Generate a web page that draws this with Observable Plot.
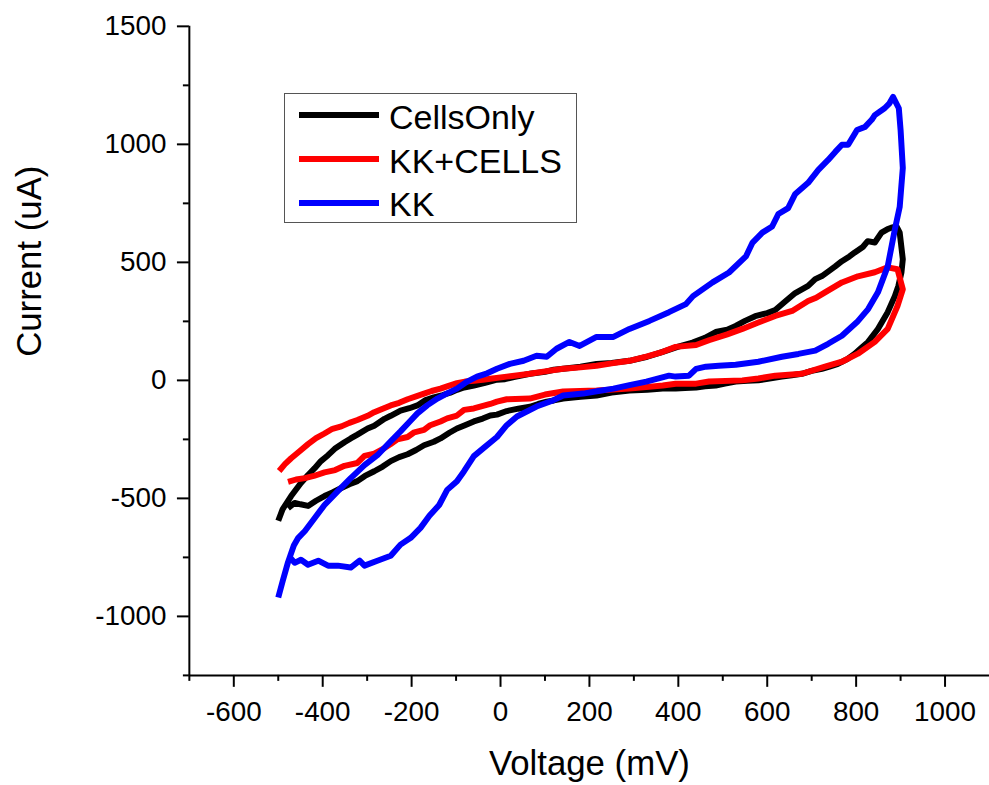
<!DOCTYPE html>
<html>
<head>
<meta charset="utf-8">
<script src="https://cdn.jsdelivr.net/npm/d3@7"></script>
<script src="https://cdn.jsdelivr.net/npm/@observablehq/plot@0.6"></script>
<style>
  html, body { margin: 0; padding: 0; background: #fff; overflow: hidden; }
  #wrap { position: relative; width: 989px; height: 785px; overflow: hidden; font-family: "Liberation Sans", Arial, sans-serif; }
  #legend { position: absolute; left: 284px; top: 93px; width: 291px; height: 128px; border: 1px solid #555; background: #fff; }
  .lg-line { position: absolute; left: 14px; width: 80px; height: 6px; }
  .lg-text { position: absolute; left: 104px; font-size: 34px; line-height: 34px; color: #000; white-space: nowrap; }
</style>
</head>
<body>
<div id="wrap"></div>
<script>
// ---- data ----
const seriesNames = ["CellsOnly", "KK+CELLS", "KK"];
const seriesColors = ["#000000", "#ff0000", "#0000ff"];

const xMajorTicks = [-600, -400, -200, 0, 200, 400, 600, 800, 1000];
const xMinorTicks = [-700, -500, -300, -100, 100, 300, 500, 700, 900];
const yMajorTicks = [-1000, -500, 0, 500, 1000, 1500];
const yMinorTicks = [-1250, -750, -250, 250, 750, 1250];

const cellsOnlyV = [-500,-490,-471,-449,-433,-418,-404,-388,-373,-351,-337,-322,-299,-284,-261,-247,-225,-205,-187,-170,-150,-130,-113,-98,-82,-60,-37,-8,10,30,66,100,120,141,180,216,250,290,330,365,400,432,460,484,510,529,550,573,600,618,641,663,692,708,723,740,753,768,785,797,815,826,842,857,870,879,891,898,905,902,895,887,871,849,827,810,797,780,759,740,723,700,678,655,633,605,580,555,529,505,484,460,440,415,394,365,330,290,250,216,180,141,120,104,85,66,40,14,-8,-23,-40,-60,-80,-98,-115,-135,-150,-172,-190,-209,-228,-247,-265,-284,-305,-322,-340,-358,-378,-396,-415,-433,-450,-463,-478];
const cellsOnlyI = [-595,-545,-490,-435,-401,-372,-342,-317,-290,-262,-246,-230,-204,-192,-163,-150,-128,-118,-106,-85,-72,-62,-52,-40,-30,-22,-12,3,5,14,28,36,45,49,58,70,74,83,100,121,143,160,180,205,215,231,252,272,285,298,335,370,400,429,442,465,483,505,525,542,565,590,584,626,640,647,652,626,513,458,400,357,289,218,163,135,113,90,70,58,49,40,28,22,16,8,0,-2,-5,-14,-22,-25,-30,-32,-35,-35,-40,-43,-52,-64,-70,-77,-85,-90,-100,-112,-120,-130,-145,-149,-162,-174,-190,-204,-222,-246,-260,-275,-295,-313,-325,-342,-365,-385,-405,-427,-440,-456,-475,-490,-510,-532,-525,-519,-541];

const kkCellsV = [-498,-485,-471,-452,-433,-415,-396,-378,-358,-340,-322,-299,-284,-265,-247,-228,-209,-190,-172,-155,-135,-115,-98,-80,-60,-40,-23,14,40,66,100,141,180,216,250,290,330,365,394,440,469,510,544,580,618,656,692,710,730,768,804,842,871,893,905,893,871,842,804,768,730,678,618,580,544,469,440,394,365,290,216,141,100,66,14,-8,-23,-60,-82,-98,-120,-135,-158,-172,-194,-209,-232,-247,-261,-284,-306,-322,-351,-372,-396,-420,-440,-460,-478];
const kkCellsI = [-384,-355,-330,-300,-270,-245,-225,-205,-195,-180,-168,-150,-135,-120,-106,-95,-80,-68,-56,-45,-35,-22,-12,-5,-2,2,7,16,22,28,38,49,55,62,72,83,102,121,142,150,170,195,218,245,273,294,336,350,373,415,441,458,479,471,386,315,218,163,113,79,58,28,20,8,0,-5,-14,-14,-22,-35,-43,-47,-60,-77,-80,-90,-100,-119,-125,-149,-161,-174,-190,-210,-220,-240,-250,-270,-287,-310,-320,-350,-362,-380,-390,-405,-414,-420,-430];

const kkV = [-500,-490,-478,-465,-455,-440,-418,-396,-366,-337,-306,-277,-247,-225,-202,-187,-165,-142,-120,-98,-75,-53,-30,-8,21,52,81,104,126,155,178,216,254,290,335,379,417,433,477,514,552,567,589,611,625,647,663,692,715,737,753,768,782,802,820,835,842,864,875,883,896,900,905,898,887,871,849,827,802,768,737,708,670,633,580,529,491,462,440,424,394,379,328,290,254,220,186,141,118,81,37,14,-8,-37,-60,-82,-98,-120,-138,-160,-180,-202,-225,-247,-277,-306,-317,-337,-366,-388,-410,-433,-449,-463,-473];
const kkI = [-920,-850,-770,-700,-667,-638,-583,-528,-469,-414,-359,-317,-258,-216,-170,-140,-106,-77,-55,-35,-5,16,30,49,70,83,104,100,134,163,146,184,184,218,252,289,323,357,415,457,525,584,626,652,705,730,790,837,892,934,968,998,998,1061,1074,1104,1124,1153,1174,1201,1153,1061,900,735,639,483,373,302,247,189,155,126,112,100,79,66,62,58,49,20,16,20,-5,-20,-35,-45,-56,-64,-85,-111,-153,-190,-240,-285,-321,-385,-427,-464,-528,-574,-625,-667,-696,-743,-764,-785,-764,-793,-785,-785,-764,-781,-760,-773,-752];

const xLabel = "Voltage (mV)";
const yLabel = "Current (uA)";

// ---- build table ----
const table = [];
[[cellsOnlyV, cellsOnlyI], [kkCellsV, kkCellsI], [kkV, kkI]].forEach(([vs, is], k) => {
  vs.forEach((v, i) => table.push({series: seriesNames[k], v, c: is[i]}));
});

const fmt = d => String(d);

const chart = Plot.plot({
  width: 995,
  height: 785,
  marginLeft: 190,
  marginRight: 0,
  marginTop: 26,
  marginBottom: 106,
  style: {fontFamily: "'Liberation Sans', Arial, sans-serif", fontSize: "28px", color: "#000", background: "#fff", overflow: "visible"},
  x: {domain: [-700, 1100]},
  y: {domain: [-1250, 1500]},
  color: {domain: seriesNames, range: seriesColors},
  marks: [
    Plot.axisX(xMajorTicks, {tickSize: 12, tickPadding: 14, strokeWidth: 2, tickFormat: fmt, label: null, fill: "#000"}),
    Plot.axisX(xMinorTicks, {tickSize: 6, strokeWidth: 2, text: null, label: null}),
    Plot.axisY(yMajorTicks, {tickSize: 12, tickPadding: 11, strokeWidth: 2, tickFormat: fmt, label: null, fill: "#000"}),
    Plot.axisY(yMinorTicks, {tickSize: 6, strokeWidth: 2, text: null, label: null}),
    Plot.ruleX([-700], {y1: -1250, y2: 1500, stroke: "#000", strokeWidth: 2}),
    Plot.ruleY([-1250], {stroke: "#000", strokeWidth: 2}),
    Plot.line(table, {x: "v", y: "c", z: "series", stroke: "series", strokeWidth: 6, strokeLinejoin: "round", strokeLinecap: "butt"}),
    Plot.text([xLabel], {text: d => d, frameAnchor: "bottom", dy: 100, lineAnchor: "bottom", fontSize: 35, fill: "#000"}),
    Plot.text([yLabel], {text: d => d, frameAnchor: "left", dx: -149, dy: 6, rotate: -90, lineAnchor: "bottom", fontSize: 35, fill: "#000"})
  ]
});

const wrap = document.getElementById("wrap");
wrap.appendChild(chart);

// legend
const legend = document.createElement("div");
legend.id = "legend";
const lineTops = [18, 62, 106];
const textTops = [6, 50, 93];
seriesNames.forEach((name, i) => {
  const ln = document.createElement("div");
  ln.className = "lg-line";
  ln.style.top = lineTops[i] + "px";
  ln.style.background = seriesColors[i];
  legend.appendChild(ln);
  const tx = document.createElement("div");
  tx.className = "lg-text";
  tx.style.top = textTops[i] + "px";
  tx.textContent = name;
  legend.appendChild(tx);
});
wrap.appendChild(legend);
</script>
</body>
</html>
